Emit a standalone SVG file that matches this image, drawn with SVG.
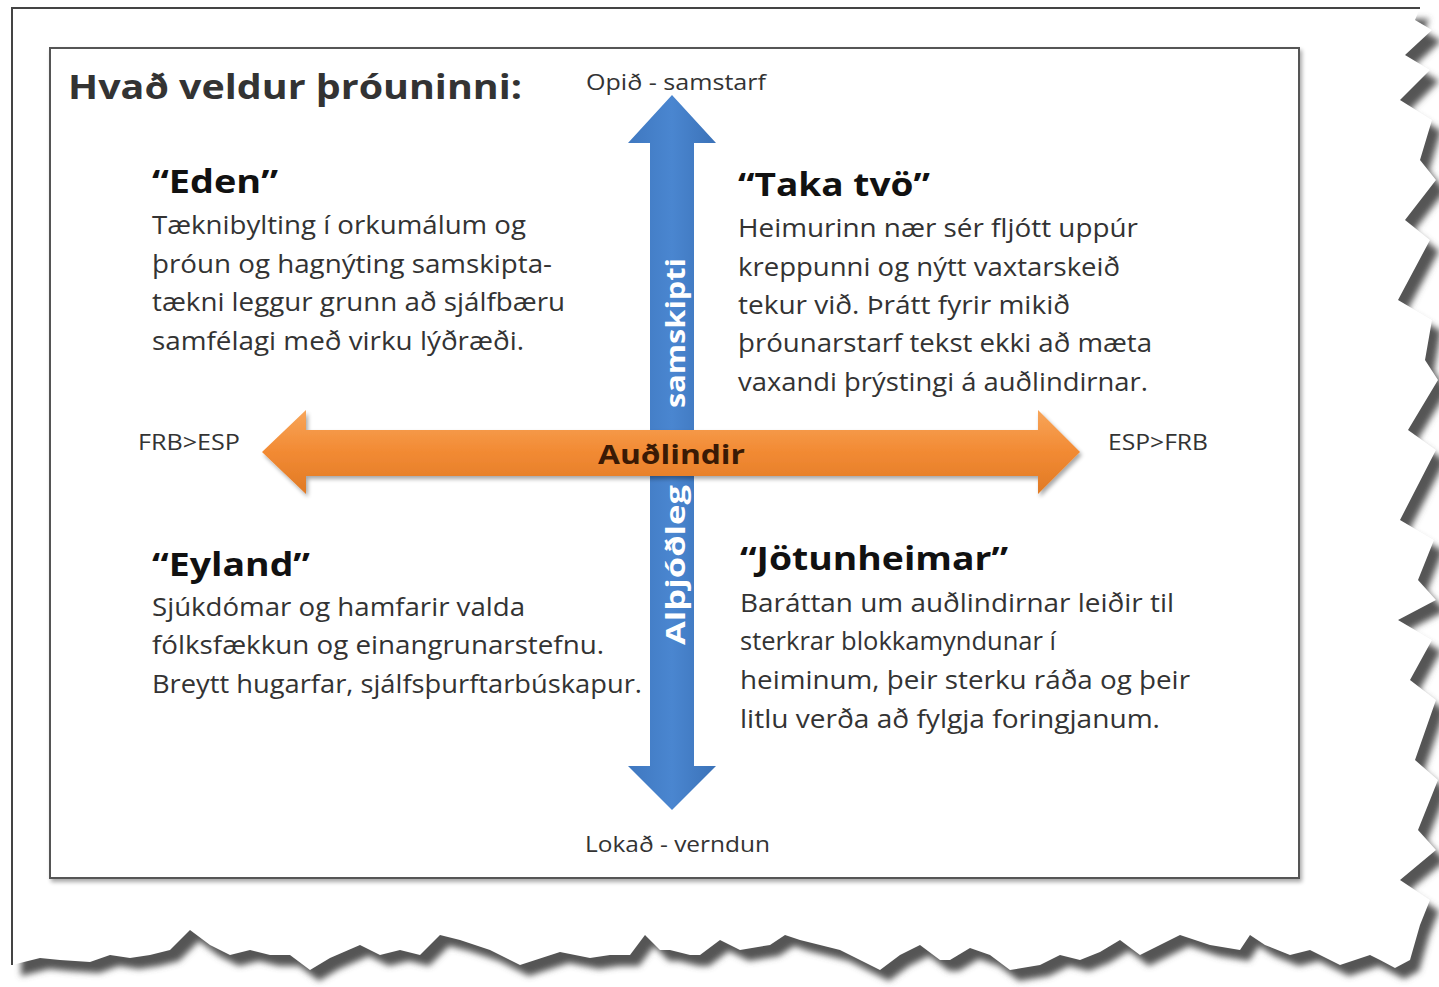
<svg xmlns="http://www.w3.org/2000/svg" width="1439" height="987" viewBox="0 0 1439 987">
<style>
.t{font-family:"Open Sans","Noto Sans","Liberation Sans",sans-serif;fill:#333}
.body{font-size:25px}
.head{font-size:32px;font-weight:bold;fill:#111}
.lab{font-size:21px}
.title{font-size:34px;font-weight:bold;fill:#333}
.ax{font-size:27px;font-weight:bold}
</style>
<defs>
<filter id="blur" x="-5%" y="-5%" width="110%" height="110%"><feGaussianBlur stdDeviation="3"/></filter>
<filter id="sh" x="-5%" y="-20%" width="110%" height="150%"><feGaussianBlur in="SourceAlpha" stdDeviation="2"/><feOffset dx="2" dy="3"/><feComponentTransfer><feFuncA type="linear" slope="0.35"/></feComponentTransfer><feMerge><feMergeNode/><feMergeNode in="SourceGraphic"/></feMerge></filter>
<linearGradient id="og" x1="0" y1="0" x2="0" y2="1"><stop offset="0" stop-color="#f7a55a"/><stop offset="0.5" stop-color="#f28a33"/><stop offset="1" stop-color="#e07a25"/></linearGradient>
<linearGradient id="bg" x1="0" y1="0" x2="1" y2="0"><stop offset="0" stop-color="#3f78c0"/><stop offset="0.5" stop-color="#4a86d0"/><stop offset="1" stop-color="#3b72b8"/></linearGradient>
<path id="page" d="M12,8 L1420,8 L1415,20 L1432,30 L1405,55 L1430,70 L1400,100 L1432,120 L1420,160 L1436,180 L1405,220 L1430,240 L1398,300 L1432,320 L1425,360 L1438,380 L1408,430 L1436,450 L1400,520 L1434,540 L1418,580 L1436,600 L1398,620 L1432,640 L1410,680 L1436,700 L1415,760 L1438,780 L1418,830 L1436,850 L1400,880 L1430,900 L1420,925 L1410,960 L1395,968 L1380,960 L1370,955 L1340,965 L1310,950 L1290,955 L1265,945 L1250,935 L1240,950 L1210,945 L1180,935 L1160,945 L1140,955 L1120,940 L1100,952 L1080,960 L1060,955 L1040,965 L1010,970 L990,955 L970,948 L950,960 L940,960 L920,945 L900,955 L880,970 L860,960 L840,950 L820,945 L800,940 L785,935 L770,945 L740,950 L720,940 L700,955 L690,955 L670,950 L660,950 L645,935 L630,955 L610,955 L590,958 L560,952 L520,965 L490,950 L460,940 L440,935 L420,955 L400,950 L380,955 L360,945 L330,958 L310,970 L290,955 L270,955 L250,950 L230,955 L210,945 L190,930 L170,950 L150,955 L130,958 L110,955 L90,962 L60,960 L40,958 L12,965 Z"/>
</defs>
<rect width="1439" height="987" fill="#fff"/>
<g id="paper">
<use href="#page" fill="#555" transform="translate(9,11)" filter="url(#blur)"/>
<use href="#page" fill="#fff"/>
<path d="M12,965 L12,8 L1420,8" fill="none" stroke="#444" stroke-width="2"/>
</g>
<g id="frame">
<rect x="50" y="48" width="1249" height="830" fill="#fff" stroke="#555" stroke-width="2" filter="url(#sh)"/>
</g>
<g id="connectors">
<path id="vertical-arrow" d="M672,95 L716,143 L694,143 L694,766 L716,766 L672,810 L628,766 L650,766 L650,143 L628,143 Z" fill="url(#bg)"/>
<path id="horizontal-arrow" d="M262,452 L306,410 L306,430 L1038,430 L1038,410 L1080,452 L1038,494 L1038,476 L306,476 L306,494 Z" fill="url(#og)" filter="url(#sh)"/>
</g>
<g id="title"><text class="t title" x="68" y="99" textLength="454" lengthAdjust="spacingAndGlyphs">Hvað veldur þróuninni:</text></g>
<g id="axis-top"><text class="t lab" x="586" y="90" textLength="180" lengthAdjust="spacingAndGlyphs">Opið - samstarf</text></g>
<g id="axis-bottom"><text class="t lab" x="585" y="852" textLength="185" lengthAdjust="spacingAndGlyphs">Lokað - verndun</text></g>
<g id="axis-left"><text class="t lab" x="138" y="450" textLength="102" lengthAdjust="spacingAndGlyphs">FRB&gt;ESP</text></g>
<g id="axis-right"><text class="t lab" x="1108" y="450" textLength="100" lengthAdjust="spacingAndGlyphs">ESP&gt;FRB</text></g>
<g id="axis-center"><text class="t ax" x="598" y="464" style="fill:#3a1a05" textLength="147" lengthAdjust="spacingAndGlyphs">Auðlindir</text></g>
<g id="blue-labels">
<text class="t ax" transform="translate(685,408) rotate(-90)" style="fill:#fff" textLength="150" lengthAdjust="spacingAndGlyphs">samskipti</text>
<text class="t ax" transform="translate(685,645) rotate(-90)" style="fill:#fff" textLength="160" lengthAdjust="spacingAndGlyphs">Alþjóðleg</text>
</g>
<g id="eden">
<text class="t head" x="152" y="193" textLength="126" lengthAdjust="spacingAndGlyphs">“Eden”</text>
<text class="t body" x="152" y="234" textLength="374" lengthAdjust="spacingAndGlyphs">Tæknibylting í orkumálum og</text>
<text class="t body" x="152" y="273" textLength="400" lengthAdjust="spacingAndGlyphs">þróun og hagnýting samskipta-</text>
<text class="t body" x="152" y="311" textLength="413" lengthAdjust="spacingAndGlyphs">tækni leggur grunn að sjálfbæru</text>
<text class="t body" x="152" y="350" textLength="372" lengthAdjust="spacingAndGlyphs">samfélagi með virku lýðræði.</text>
</g>
<g id="taka-tvo">
<text class="t head" x="738" y="196" textLength="192" lengthAdjust="spacingAndGlyphs">“Taka tvö”</text>
<text class="t body" x="738" y="237" textLength="400" lengthAdjust="spacingAndGlyphs">Heimurinn nær sér fljótt uppúr</text>
<text class="t body" x="738" y="276" textLength="382" lengthAdjust="spacingAndGlyphs">kreppunni og nýtt vaxtarskeið</text>
<text class="t body" x="738" y="314" textLength="332" lengthAdjust="spacingAndGlyphs">tekur við. Þrátt fyrir mikið</text>
<text class="t body" x="738" y="352" textLength="414" lengthAdjust="spacingAndGlyphs">þróunarstarf tekst ekki að mæta</text>
<text class="t body" x="738" y="391" textLength="410" lengthAdjust="spacingAndGlyphs">vaxandi þrýstingi á auðlindirnar.</text>
</g>
<g id="eyland">
<text class="t head" x="152" y="576" textLength="158" lengthAdjust="spacingAndGlyphs">“Eyland”</text>
<text class="t body" x="152" y="616" textLength="373" lengthAdjust="spacingAndGlyphs">Sjúkdómar og hamfarir valda</text>
<text class="t body" x="152" y="654" textLength="452" lengthAdjust="spacingAndGlyphs">fólksfækkun og einangrunarstefnu.</text>
<text class="t body" x="152" y="693" textLength="490" lengthAdjust="spacingAndGlyphs">Breytt hugarfar,  sjálfsþurftarbúskapur.</text>
</g>
<g id="jotunheimar">
<text class="t head" x="740" y="570" textLength="268" lengthAdjust="spacingAndGlyphs">“Jötunheimar”</text>
<text class="t body" x="740" y="612" textLength="434" lengthAdjust="spacingAndGlyphs">Baráttan um auðlindirnar leiðir til</text>
<text class="t body" x="740" y="650" textLength="316" lengthAdjust="spacingAndGlyphs">sterkrar blokkamyndunar í</text>
<text class="t body" x="740" y="689" textLength="450" lengthAdjust="spacingAndGlyphs">heiminum, þeir sterku ráða og þeir</text>
<text class="t body" x="740" y="728" textLength="420" lengthAdjust="spacingAndGlyphs">litlu verða að fylgja foringjanum.</text>
</g>
</svg>
